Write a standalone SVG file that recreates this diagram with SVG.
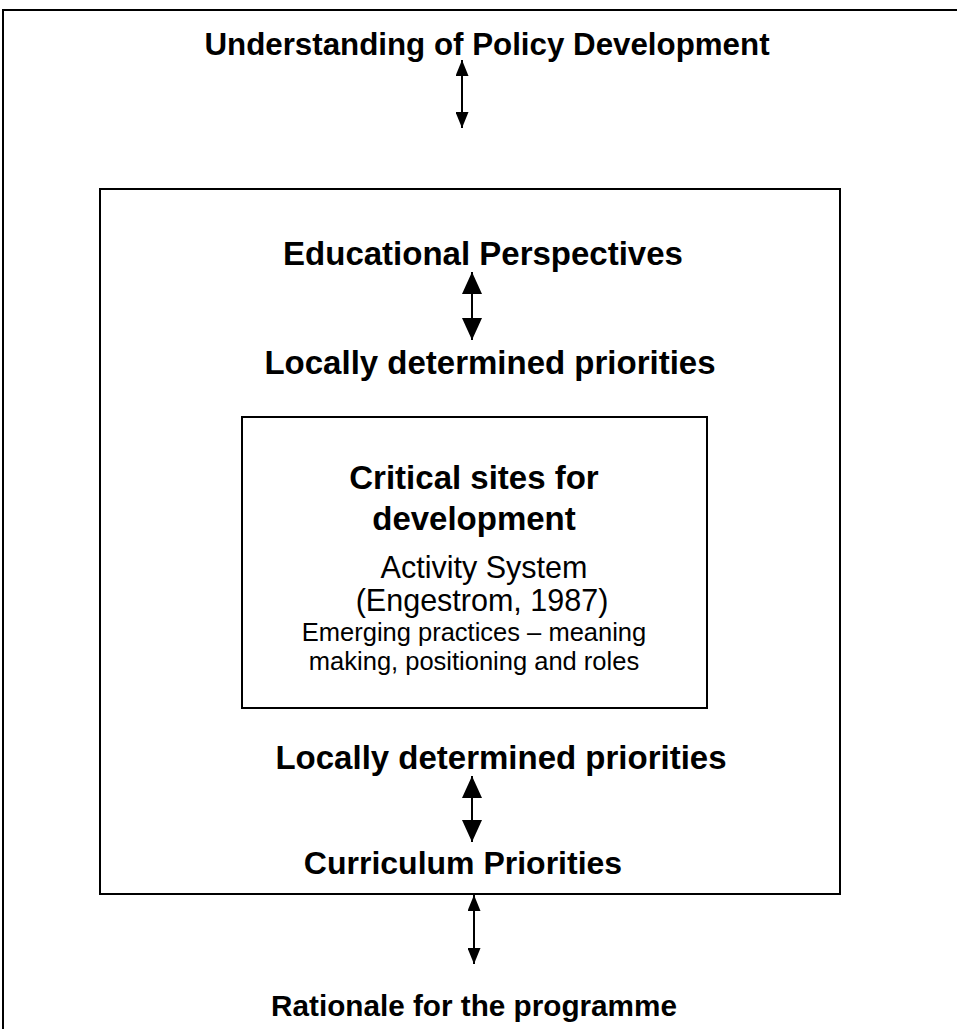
<svg xmlns="http://www.w3.org/2000/svg" width="957" height="1029" viewBox="0 0 957 1029">
<style>
.box{fill:none;stroke:#000;stroke-width:2}
.h{font-family:"Liberation Sans",Arial,sans-serif;font-weight:bold;font-size:33px;fill:#000;text-anchor:middle}
.r{font-family:"Liberation Sans",Arial,sans-serif;font-size:30.5px;fill:#000;text-anchor:middle}
.s{font-family:"Liberation Sans",Arial,sans-serif;font-size:25.5px;fill:#000;text-anchor:middle}
.c{stroke:#000;stroke-width:2;fill:none}
.thin{marker-start:url(#hs);marker-end:url(#hs)}
.thick{marker-start:url(#hl);marker-end:url(#hl)}
</style>
<defs>
<marker id="hs" viewBox="0 0 16 13" refX="16" refY="6.5" markerWidth="16" markerHeight="13" markerUnits="userSpaceOnUse" orient="auto-start-reverse"><path d="M0,0 L16,6.5 L0,13 z" fill="#000"/></marker>
<marker id="hl" viewBox="0 0 22 20" refX="22" refY="10" markerWidth="22" markerHeight="20" markerUnits="userSpaceOnUse" orient="auto-start-reverse"><path d="M0,0 L22,10 L0,20 z" fill="#000"/></marker>
</defs>
<rect width="957" height="1029" fill="#fff"/>
<g id="outer">
<rect class="box" x="3" y="10" width="1000" height="1100"/>
<text class="h" x="487" y="55" style="font-size:31.3px">Understanding of Policy Development</text>
<text class="h" x="474" y="1016" style="font-size:29.7px">Rationale for the programme</text>
</g>
<g id="middle">
<rect class="box" x="100" y="189" width="740" height="705"/>
<text class="h" x="483" y="265">Educational Perspectives</text>
<text class="h" x="490" y="374">Locally determined priorities</text>
<text class="h" x="501" y="769">Locally determined priorities</text>
<text class="h" x="463" y="874" style="font-size:32px">Curriculum Priorities</text>
</g>
<g id="inner">
<rect class="box" x="242" y="417" width="465" height="291"/>
<text class="h" x="474" y="489">Critical sites for</text>
<text class="h" x="474" y="530">development</text>
<text class="r" x="484" y="578">Activity System</text>
<text class="r" x="482" y="611">(Engestrom, 1987)</text>
<text class="s" x="474" y="641">Emerging practices – meaning</text>
<text class="s" x="474" y="670">making, positioning and roles</text>
</g>
<g id="connectors">
<line class="c thin" x1="462" y1="60" x2="462" y2="128"/>
<line class="c thick" x1="472" y1="272" x2="472" y2="340"/>
<line class="c thick" x1="472" y1="776" x2="472" y2="842"/>
<line class="c thin" x1="474" y1="895" x2="474" y2="964"/>
</g>
</svg>
